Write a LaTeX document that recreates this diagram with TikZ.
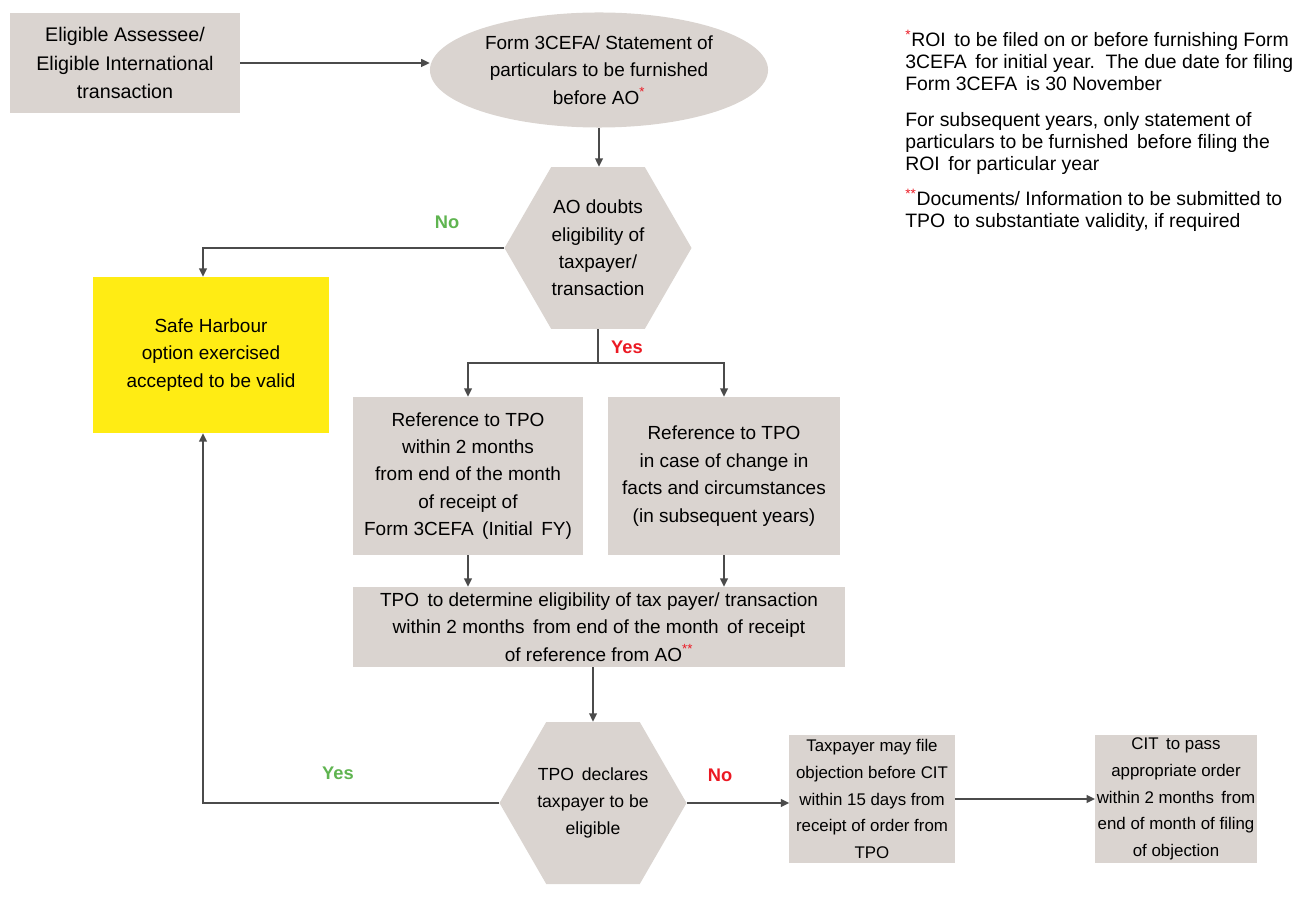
\documentclass[tikz,border=0pt]{standalone}
\usepackage{fontspec}
\setmainfont{Liberation Sans}
\usetikzlibrary{shapes.geometric,arrows.meta,positioning}

\definecolor{boxgrey}{RGB}{218,212,208}
\definecolor{safeyellow}{RGB}{255,236,20}
\definecolor{linegrey}{RGB}{75,75,75}
\definecolor{nogreen}{RGB}{95,180,80}
\definecolor{yesred}{RGB}{235,25,35}

\begin{document}
\begin{tikzpicture}[
    x=0.025cm, y=-0.025cm,
    greybox/.style={
        fill=boxgrey,
        align=center,
        inner sep=1pt,
        font=\fontsize{13.5}{19.5}\selectfont
        },
    hexbox/.style={
        regular polygon,
        regular polygon sides=6,
        minimum size=4.675cm,
        fill=boxgrey,
        align=center,
        inner sep=0pt,
        font=\fontsize{13.5}{19.5}\selectfont
        },
    flow/.style={
        draw=linegrey,
        line width=1.2pt,
        -{Triangle[length=6pt,width=5.5pt]}
        },
    branch/.style={
        draw=linegrey,
        line width=1.2pt
        },
    answer/.style={
        font=\bfseries\fontsize{13}{15}\selectfont
        },
]

\useasboundingbox (0,0) rectangle (1314,898);

% Top row
\node[greybox, minimum width=5.75cm, minimum height=2.5cm, font=\fontsize{14}{20}\selectfont] (assessee) at (125,63) {Eligible Assessee/\\Eligible International\\transaction};
\node[ellipse, fill=boxgrey, align=center, inner sep=0pt, minimum width=8.45cm, minimum height=2.875cm, font=\fontsize{13.5}{19.5}\selectfont] (form) at (599,70) {Form 3CEFA/ Statement of\\particulars to be furnished\\before AO\textcolor{yesred}{\textsuperscript{*}}};

% Notes
\node[anchor=north west, align=left, inner sep=0pt, font=\fontsize{13.8}{15.5}\selectfont] (notes) at (905,30) {\textcolor{yesred}{\textsuperscript{*}}ROI\, to be filed on or before furnishing Form\\3CEFA\, for initial year.\, The due date for filing\\Form 3CEFA\, is 30 November\\[10pt]For subsequent years, only statement of\\particulars to be furnished\, before filing the\\ROI\, for particular year\\[10pt]\textcolor{yesred}{\textsuperscript{**}}Documents/ Information to be submitted to\\TPO\, to substantiate validity, if required};

% AO decision
\node[hexbox] (doubt) at (598,248) {AO doubts\\eligibility of\\taxpayer/\\transaction};
\node[greybox, fill=safeyellow, minimum width=5.9cm, minimum height=3.9cm] (safe) at (211,355) {Safe Harbour\\option exercised\\accepted to be valid};

% References to TPO
\node[greybox, minimum width=5.75cm, minimum height=3.95cm] (refinit) at (468,476) {Reference to TPO\\within 2 months\\from end of the month\\of receipt of\\Form 3CEFA\, (Initial\, FY)};
\node[greybox, minimum width=5.775cm, minimum height=3.95cm] (refsub) at (724,476) {Reference to TPO\\in case of change in\\facts and circumstances\\(in subsequent years)};
\node[greybox, minimum width=12.3cm, minimum height=2cm] (tpo) at (599,627) {TPO\, to determine eligibility of tax payer/ transaction\\within 2 months\, from end of the month\, of receipt\\of reference from AO\textcolor{yesred}{\textsuperscript{**}}};

% Bottom row
\node[hexbox, font=\fontsize{12.5}{19}\selectfont] (declare) at (593,803) {TPO\, declares\\taxpayer to be\\eligible};
\node[greybox, minimum width=4.125cm, minimum height=3.2cm, font=\fontsize{12}{19}\selectfont] (objection) at (872,799) {Taxpayer may file\\objection before CIT\\within 15 days from\\receipt of order from\\TPO};
\node[greybox, minimum width=3.975cm, minimum height=3.2cm, font=\fontsize{12}{19}\selectfont] (cit) at (1176,799) {CIT\, to pass\\appropriate order\\within 2 months\, from\\end of month of filing\\of objection};

% Connectors
\draw[flow] (assessee.east) -- (assessee.east -| form.west);
\draw[flow] (form.south) -- (form.south |- doubt.north);
\draw[flow] (doubt.west) -| ([xshift=-0.2cm]safe.north);
\node[answer, text=nogreen] (nodoubt) at (447,222) {No};

\coordinate (yesfork) at ([yshift=-0.85cm]doubt.south);
\draw[branch] (doubt.south) -- (yesfork);
\draw[flow] (yesfork) -| (refinit.north);
\draw[flow] (yesfork) -| (refsub.north);
\node[answer, text=yesred] (yesdoubt) at (627,347) {Yes};

\draw[flow] (refinit.south) -- (refinit.south |- tpo.north);
\draw[flow] (refsub.south) -- (refsub.south |- tpo.north);
\draw[flow] (declare.north |- tpo.south) -- (declare.north);

\draw[flow] (declare.west) -| ([xshift=-0.2cm]safe.south);
\node[answer, text=nogreen] (yesdeclare) at (338,773) {Yes};
\draw[flow] (declare.east) -- (declare.east -| objection.west);
\node[answer, text=yesred] (nodeclare) at (720,775) {No};
\draw[flow] (objection) -- (cit);

\end{tikzpicture}
\end{document}
